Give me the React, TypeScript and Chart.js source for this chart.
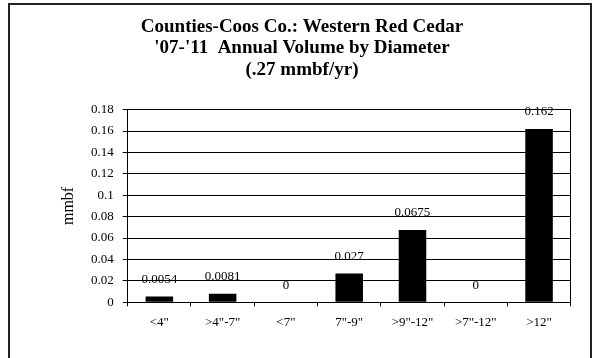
import React, { useEffect, useRef } from "react";
import { Chart, registerables } from "chart.js";

Chart.register(...registerables);

const titleLines = [
  "Counties-Coos Co.: Western Red Cedar",
  "'07-'11  Annual Volume by Diameter",
  "(.27 mmbf/yr)",
];
const categories = ['<4"', '>4"-7"', '<7"', '7"-9"', '>9"-12"', '>7"-12"', '>12"'];
const volumes = [0.0054, 0.0081, 0, 0.027, 0.0675, 0, 0.162];
const yTickValues = [0, 0.02, 0.04, 0.06, 0.08, 0.1, 0.12, 0.14, 0.16, 0.18];
const yTickLabels = ["0", "0.02", "0.04", "0.06", "0.08", "0.1", "0.12", "0.14", "0.16", "0.18"];
const yAxisTitle = "mmbf";

const SERIF = "'Liberation Serif', 'Times New Roman', serif";

const framePlugin = {
  id: "plotFrame",
  beforeDatasetsDraw(chart: any) {
    const { ctx, chartArea } = chart;
    const l = Math.round(chartArea.left - 0.5) + 0.5;
    const t = Math.round(chartArea.top - 0.5) + 0.5;
    const r = Math.round(chartArea.right - 0.5) + 0.5;
    const b = Math.round(chartArea.bottom - 0.5) + 0.5;
    ctx.save();
    ctx.strokeStyle = "#000";
    ctx.lineWidth = 1;
    ctx.strokeRect(l, t, r - l, b - t);
    ctx.restore();
  },
};

const valueLabelPlugin = {
  id: "valueLabels",
  afterDatasetsDraw(chart: any) {
    const { ctx } = chart;
    const meta = chart.getDatasetMeta(0);
    ctx.save();
    ctx.fillStyle = "#000";
    ctx.font = `13px ${SERIF}`;
    ctx.textAlign = "center";
    ctx.textBaseline = "middle";
    meta.data.forEach((bar: any, i: number) => {
      ctx.fillText(String(volumes[i]), bar.x, bar.y - 17);
    });
    ctx.restore();
  },
};

export default function App() {
  const canvasRef = useRef<HTMLCanvasElement | null>(null);

  useEffect(() => {
    const canvas = canvasRef.current;
    if (!canvas) return;
    Chart.defaults.font.family = SERIF;
    Chart.defaults.color = "#000";
    const chart = new Chart(canvas, {
      type: "bar",
      data: {
        labels: categories,
        datasets: [
          {
            data: volumes,
            backgroundColor: "#000",
            borderWidth: 0,
            barPercentage: 0.435,
            categoryPercentage: 1,
          },
        ],
      },
      options: {
        responsive: false,
        animation: false,
        devicePixelRatio: 1,
        layout: { padding: { left: 33.3, right: 26.3, top: 0, bottom: 15.7 } },
        plugins: {
          legend: { display: false },
          tooltip: { enabled: false },
          title: {
            display: true,
            text: titleLines,
            color: "#000",
            font: { family: SERIF, size: 19, weight: "bold", lineHeight: 1.13 },
            padding: { top: 16.25, bottom: 28.95 },
          },
        },
        scales: {
          x: {
            grid: {
              offset: true,
              drawOnChartArea: false,
              drawTicks: true,
              tickLength: 4,
              color: "#000",
              lineWidth: 1,
            },
            border: { display: true, color: "#000", width: 1 },
            ticks: {
              color: "#000",
              font: { family: SERIF, size: 13 },
              padding: 8,
              maxRotation: 0,
              autoSkip: false,
            },
            afterFit: (s: any) => {
              s.height = 40;
            },
          },
          y: {
            min: 0,
            max: 0.18,
            afterBuildTicks: (s: any) => {
              s.ticks = yTickValues.map((v) => ({ value: v }));
            },
            ticks: {
              color: "#000",
              font: { family: SERIF, size: 13 },
              padding: 9,
              callback: (_v: any, i: number) => yTickLabels[i],
            },
            grid: { color: "#000", lineWidth: 1, tickLength: 5, drawTicks: true },
            border: { display: true, color: "#000", width: 1 },
            title: {
              display: true,
              text: yAxisTitle,
              color: "#000",
              font: { family: SERIF, size: 16 },
              padding: { top: 26, bottom: 0 },
            },
            afterFit: (s: any) => {
              s.width = 94.4;
            },
          },
        },
      },
      plugins: [framePlugin, valueLabelPlugin],
    });
    return () => chart.destroy();
  }, []);

  return (
    <div
      style={{
        position: "fixed",
        left: 0,
        top: 0,
        width: 597,
        height: 358,
        overflow: "hidden",
        background: "#fff",
      }}
    >
      <canvas
        ref={canvasRef}
        width={597}
        height={358}
        style={{ position: "absolute", left: 0, top: 0, width: 597, height: 358 }}
      />
      <div
        style={{
          position: "absolute",
          left: 8,
          top: 3,
          width: 584,
          height: 400,
          boxSizing: "border-box",
          border: "2px solid #222",
          pointerEvents: "none",
        }}
      />
    </div>
  );
}
